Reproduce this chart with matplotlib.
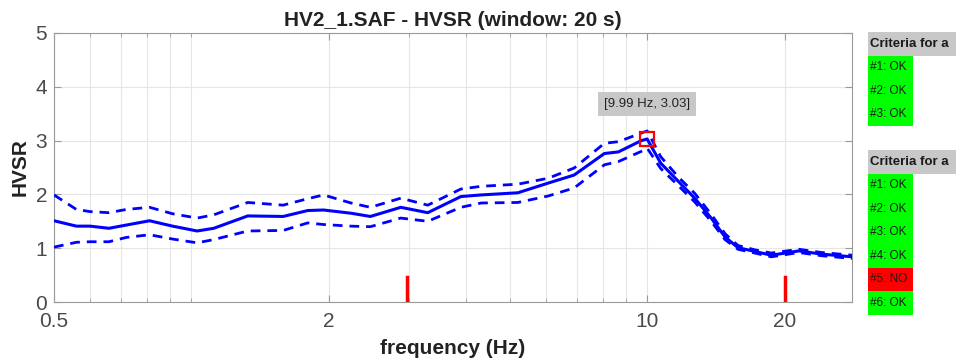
import matplotlib
matplotlib.use("Agg")
import matplotlib.pyplot as plt
from matplotlib.patches import Rectangle
from matplotlib.ticker import FixedLocator, NullFormatter

plt.rcParams['font.family'] = ['Liberation Sans', 'DejaVu Sans']

# HVSR curve: mean and +/- std (read at these frequencies, Hz)
freq = [0.50, 0.56, 0.60, 0.66, 0.72, 0.81, 0.91, 1.03, 1.12, 1.33, 1.59, 1.80,
        1.95, 2.24, 2.47, 2.88, 3.30, 3.90, 4.32, 5.2, 6.06, 6.91, 8.05, 8.64,
        9.7, 9.99, 10.7, 11.7, 12.7, 13.8, 14.8, 15.8, 17.2, 18.7, 21.5, 24.1, 28.1]
hv_mean = [1.51, 1.41, 1.41, 1.37, 1.43, 1.51, 1.41, 1.32, 1.37, 1.60, 1.59, 1.70,
           1.71, 1.65, 1.59, 1.76, 1.66, 1.96, 1.99, 2.03, 2.21, 2.36, 2.76, 2.79,
           3.00, 3.03, 2.58, 2.24, 1.93, 1.56, 1.21, 1.01, 0.94, 0.87, 0.95, 0.89, 0.84]
hv_upper = [1.99, 1.72, 1.68, 1.66, 1.72, 1.76, 1.64, 1.56, 1.62, 1.85, 1.80, 1.92,
            1.99, 1.84, 1.76, 1.93, 1.80, 2.10, 2.15, 2.19, 2.30, 2.49, 2.95, 2.98,
            3.14, 3.18, 2.70, 2.32, 2.02, 1.63, 1.27, 1.05, 0.97, 0.91, 0.98, 0.92, 0.87]
hv_lower = [1.02, 1.11, 1.12, 1.12, 1.20, 1.25, 1.17, 1.10, 1.16, 1.32, 1.33, 1.47,
            1.44, 1.41, 1.40, 1.56, 1.50, 1.76, 1.84, 1.85, 1.97, 2.12, 2.55, 2.61,
            2.80, 2.86, 2.48, 2.16, 1.86, 1.50, 1.16, 0.98, 0.91, 0.84, 0.92, 0.86, 0.81]

peak_f0 = 9.99
peak_amp = 3.03
marker_freqs = [2.97, 20.0]
marker_height = 0.47

xtick_vals = [0.5, 2, 10, 20]
xtick_labels = ["0.5", "2", "10", "20"]
minor_vals = [0.6, 0.7, 0.8, 0.9, 1, 3, 4, 5, 6, 7, 8, 9]

criteria_a = ["#1: OK", "#2: OK", "#3: OK"]
criteria_b = ["#1: OK", "#2: OK", "#3: OK", "#4: OK", "#5: NO", "#6: OK"]

W, H = 964, 362
fig = plt.figure(figsize=(W / 100, H / 100), dpi=100)
ax = fig.add_axes([54 / W, 1 - 302 / H, (852 - 54) / W, (302 - 33) / H])

blue = (0, 0, 1)
ax.plot(freq, hv_mean, color=blue, lw=2.2, solid_capstyle='round', zorder=3)
ax.plot(freq, hv_upper, color=blue, lw=2.0, ls=(0, (3.5, 2.5)), zorder=3)
ax.plot(freq, hv_lower, color=blue, lw=2.0, ls=(0, (3.5, 2.5)), zorder=3)

for mf in marker_freqs:
    ax.plot([mf, mf], [0, marker_height], color='red', lw=2.5, zorder=4)

ax.plot([peak_f0], [peak_amp], marker='s', ms=10, mfc='none', mec='red', mew=1.6, zorder=5)
ax.text(peak_f0, 3.68, f"[{peak_f0:.2f} Hz, {peak_amp:.2f}]", ha='center', va='center',
        fontsize=9.5, color='#222222',
        bbox=dict(boxstyle='square,pad=0.45', fc='#c8c8c8', ec='none'))

ax.set_xscale('log')
ax.set_xlim(0.5, 28.1)
ax.set_ylim(0, 5)
ax.xaxis.set_major_locator(FixedLocator(xtick_vals))
ax.set_xticklabels(xtick_labels)
ax.xaxis.set_minor_locator(FixedLocator(minor_vals))
ax.xaxis.set_minor_formatter(NullFormatter())
ax.set_yticks([0, 1, 2, 3, 4, 5])

ax.grid(True, which='both', color='#e6e6e6', lw=0.8)
ax.set_axisbelow(True)
ax.tick_params(which='both', direction='in', top=True, right=True, colors='#999999',
               labelcolor='#4a4a4a', labelsize=15)
ax.tick_params(which='major', length=5)
ax.tick_params(which='minor', length=3)
ax.tick_params(axis='x', pad=7)
ax.tick_params(axis='y', pad=5)
for s in ax.spines.values():
    s.set_color('#999999')

ax.set_title("HV2_1.SAF - HVSR (window: 20 s)", fontsize=15, fontweight='bold',
             color='#222222', pad=5)
ax.set_ylabel("HVSR", fontsize=15, fontweight='bold', color='#222222', labelpad=4)
ax.set_xlabel("frequency (Hz)", fontsize=15, fontweight='bold', color='#222222', labelpad=6)


# criteria panels at the right, pixel coordinates -> figure fraction
def box(x0, y0, w, h, color, label, bold=False, fs=8.5):
    fig.add_artist(Rectangle((x0 / W, 1 - (y0 + h) / H), w / W, h / H,
                             transform=fig.transFigure, fc=color, ec='none'))
    fig.text((x0 + 2) / W, 1 - (y0 + h / 2) / H, label, ha='left', va='center',
             fontsize=fs, fontweight='bold' if bold else 'normal', color='#1a1a1a')


def panel(top, items):
    box(868, top, 88, 23.5, '#c8c8c8', "Criteria for a", bold=True, fs=9.5)
    for i, item in enumerate(items):
        c = '#ff0000' if item.endswith("NO") else '#00ff00'
        box(868, top + 23.5 * (i + 1), 45, 23.5, c, item)


panel(32, criteria_a)
panel(150, criteria_b)

fig.savefig("out.png", dpi=100)
